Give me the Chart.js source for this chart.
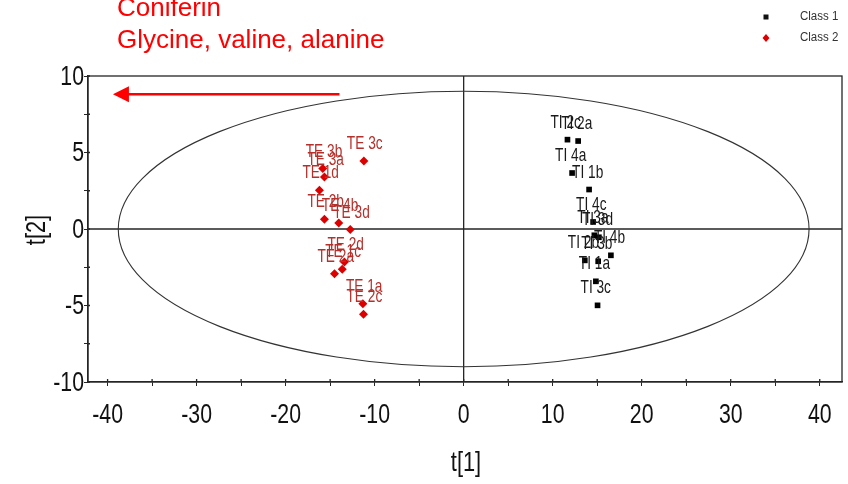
<!DOCTYPE html>
<html>
<head>
<meta charset="utf-8">
<title>t[1] / t[2] score plot</title>
<script src="https://cdn.jsdelivr.net/npm/chart.js@4.4.1/dist/chart.umd.min.js"></script>
<style>
  html, body { margin: 0; padding: 0; background: #fff; }
  #wrap { width: 848px; height: 484px; }
</style>
</head>
<body>
<div id="wrap"><canvas id="scoreChart" width="848" height="484"></canvas></div>
<script>
// Scores, class 1 (TI samples)
const class1Labels = ['TI 2c', 'TI 2a', 'TI 4a', 'TI 1b', 'TI 4c', 'TI 3a', 'TI 3d', 'TI 4b', 'TI 2b', 'TI 3b', 'TI 1a', 'TI 3c'];
const class1T1 = [11.66, 12.86, 12.18, 14.09, 14.54, 14.68, 15.19, 16.54, 13.61, 15.11, 14.85, 15.04];
const class1T2 = [5.84, 5.75, 3.66, 2.58, 0.46, -0.41, -0.54, -1.72, -2.05, -2.11, -3.42, -4.99];

// Scores, class 2 (TE samples)
const class2Labels = ['TE 3c', 'TE 3b', 'TE 3a', 'TE 1d', 'TE 2b', 'TE 4b', 'TE 3d', 'TE 2d', 'TE 1c', 'TE 2a', 'TE 1a', 'TE 2c'];
const class2T1 = [-11.21, -15.83, -15.64, -16.20, -15.64, -14.03, -12.74, -13.39, -13.64, -14.51, -11.32, -11.25];
const class2T2 = [4.44, 3.95, 3.40, 2.53, 0.63, 0.39, -0.04, -2.16, -2.63, -2.92, -4.88, -5.58];

const seriesNames = ['Class 1', 'Class 2'];
const loadingNotes = ['Coniferin', 'Glycine, valine, alanine'];

// Hotelling T2 ellipse semi-axes and the loading-direction arrow (score units)
const ellipseRadii = [38.8, 9.0];
const arrowStart = [-13.95, 8.8];
const arrowEnd = [-39.4, 8.8];

const xTicks = { min: -42.2, max: 42.5, step: 5, labelEvery: 10 };
const yTicks = { min: -10, max: 10, step: 2.5, labelEvery: 5 };

const SANS = '"Liberation Sans", Arial, sans-serif';
const RED = '#dd0000';
const RED_TEXT = '#b5302b';

const toPoints = (xs, ys) => xs.map((x, i) => ({ x, y: ys[i] }));

// Arial-like text squeezed horizontally, to get the narrow face
function narrowText(ctx, text, x, y, size, squeeze, align) {
  ctx.save();
  ctx.font = size + 'px ' + SANS;
  ctx.textAlign = align || 'left';
  ctx.translate(x, y);
  ctx.scale(squeeze, 1);
  ctx.fillText(text, 0, 0);
  ctx.restore();
}

const scorePlot = {
  id: 'scorePlot',
  beforeDatasetsDraw(chart) {
    const { ctx, chartArea: a, scales: { x, y } } = chart;
    ctx.save();
    ctx.strokeStyle = '#262626';
    ctx.lineWidth = 1.3;
    ctx.strokeRect(a.left, a.top, a.right - a.left, a.bottom - a.top);

    // tick marks poke a little into the plot as well
    ctx.beginPath();
    x.ticks.forEach(t => {
      const px = x.getPixelForValue(t.value);
      ctx.moveTo(px, a.bottom); ctx.lineTo(px, a.bottom - 3);
    });
    y.ticks.forEach(t => {
      const py = y.getPixelForValue(t.value);
      ctx.moveTo(a.left, py); ctx.lineTo(a.left + 2, py);
    });
    ctx.stroke();

    // zero lines
    const x0 = x.getPixelForValue(0), y0 = y.getPixelForValue(0);
    ctx.beginPath();
    ctx.moveTo(a.left, y0); ctx.lineTo(a.right, y0);
    ctx.moveTo(x0, a.top); ctx.lineTo(x0, a.bottom);
    ctx.stroke();

    // confidence ellipse
    const rx = x.getPixelForValue(ellipseRadii[0]) - x0;
    const ry = y0 - y.getPixelForValue(ellipseRadii[1]);
    ctx.lineWidth = 1.1;
    ctx.strokeStyle = '#333';
    ctx.beginPath();
    ctx.ellipse(x0, y0, rx, ry, 0, 0, Math.PI * 2);
    ctx.stroke();
    ctx.restore();
  },
  afterDatasetsDraw(chart) {
    const { ctx, chartArea: a, scales: { x, y } } = chart;
    ctx.save();
    ctx.textBaseline = 'alphabetic';

    // tick labels
    ctx.fillStyle = '#111';
    x.ticks.forEach(t => {
      if (t.value % xTicks.labelEvery !== 0) return;
      narrowText(ctx, String(t.value), x.getPixelForValue(t.value), 423, 28, 0.76, 'center');
    });
    ctx.textBaseline = 'middle';
    y.ticks.forEach(t => {
      if (t.value % yTicks.labelEvery !== 0) return;
      narrowText(ctx, String(t.value), a.left - 4, y.getPixelForValue(t.value) + 1, 28, 0.76, 'right');
    });
    ctx.textBaseline = 'alphabetic';

    // sample names above each point
    const drawNames = (names, xs, ys, color) => {
      ctx.fillStyle = color;
      names.forEach((n, i) => {
        narrowText(ctx, n, x.getPixelForValue(xs[i]) - 17, y.getPixelForValue(ys[i]) - 12, 19, 0.72);
      });
    };
    drawNames(class2Labels, class2T1, class2T2, RED_TEXT);
    drawNames(class1Labels, class1T1, class1T2, '#1a1a1a');

    // arrow
    const sx = x.getPixelForValue(arrowStart[0]), sy = y.getPixelForValue(arrowStart[1]);
    const ex = x.getPixelForValue(arrowEnd[0]), ey = y.getPixelForValue(arrowEnd[1]);
    ctx.strokeStyle = '#ff0000';
    ctx.fillStyle = '#ff0000';
    ctx.lineWidth = 2.5;
    ctx.beginPath();
    ctx.moveTo(sx, sy); ctx.lineTo(ex + 12, ey);
    ctx.stroke();
    ctx.beginPath();
    ctx.moveTo(ex, ey);
    ctx.lineTo(ex + 16, ey - 8);
    ctx.lineTo(ex + 16, ey + 8);
    ctx.closePath();
    ctx.fill();

    // loading notes, top left
    ctx.font = '26px ' + SANS;
    ctx.fillStyle = '#ff0000';
    ctx.fillText(loadingNotes[0], 117, 16);
    ctx.fillText(loadingNotes[1], 117, 48);

    // legend
    ctx.font = '12px ' + SANS;
    ctx.textBaseline = 'middle';
    ctx.fillStyle = '#111';
    ctx.fillRect(763.5, 14.5, 5, 5);
    ctx.fillStyle = '#333';
    narrowText(ctx, seriesNames[0], 800, 17, 12.5, 0.92);
    ctx.fillStyle = RED;
    ctx.beginPath();
    ctx.moveTo(766, 34); ctx.lineTo(769.5, 38); ctx.lineTo(766, 42); ctx.lineTo(762.5, 38);
    ctx.closePath();
    ctx.fill();
    ctx.fillStyle = '#333';
    narrowText(ctx, seriesNames[1], 800, 38, 12.5, 0.92);

    // axis titles
    ctx.fillStyle = '#111';
    narrowText(ctx, 't[1]', 466, 463, 28, 0.78, 'center');
    ctx.translate(37, 230);
    ctx.rotate(-Math.PI / 2);
    narrowText(ctx, 't[2]', 0, 0, 28, 0.78, 'center');
    ctx.restore();
  }
};

const axisBase = (range, size) => ({
  type: 'linear',
  min: range.min,
  max: range.max,
  afterBuildTicks: s => {
    s.ticks = [];
    const first = Math.ceil(range.min / range.step) * range.step;
    for (let v = first; v <= range.max; v += range.step) s.ticks.push({ value: v });
  },
  afterFit: size,
  grid: { drawOnChartArea: false, tickLength: 4, color: '#262626' },
  border: { color: '#262626', width: 1.3 },
  ticks: { display: false }
});

new Chart(document.getElementById('scoreChart'), {
  type: 'scatter',
  data: {
    datasets: [
      {
        label: seriesNames[0],
        data: toPoints(class1T1, class1T2),
        pointStyle: 'rect',
        pointRadius: 4,
        backgroundColor: '#000',
        borderWidth: 0
      },
      {
        label: seriesNames[1],
        data: toPoints(class2T1, class2T2),
        pointStyle: 'rectRot',
        pointRadius: 4.5,
        backgroundColor: RED,
        borderWidth: 0
      }
    ]
  },
  options: {
    responsive: false,
    animation: false,
    layout: { padding: { top: 76, right: 6, left: 0, bottom: 0 } },
    plugins: { legend: { display: false }, tooltip: { enabled: false } },
    scales: {
      x: axisBase(xTicks, s => { s.height = 102; }),
      y: axisBase(yTicks, s => { s.width = 88; })
    }
  },
  plugins: [scorePlot]
});
</script>
</body>
</html>
